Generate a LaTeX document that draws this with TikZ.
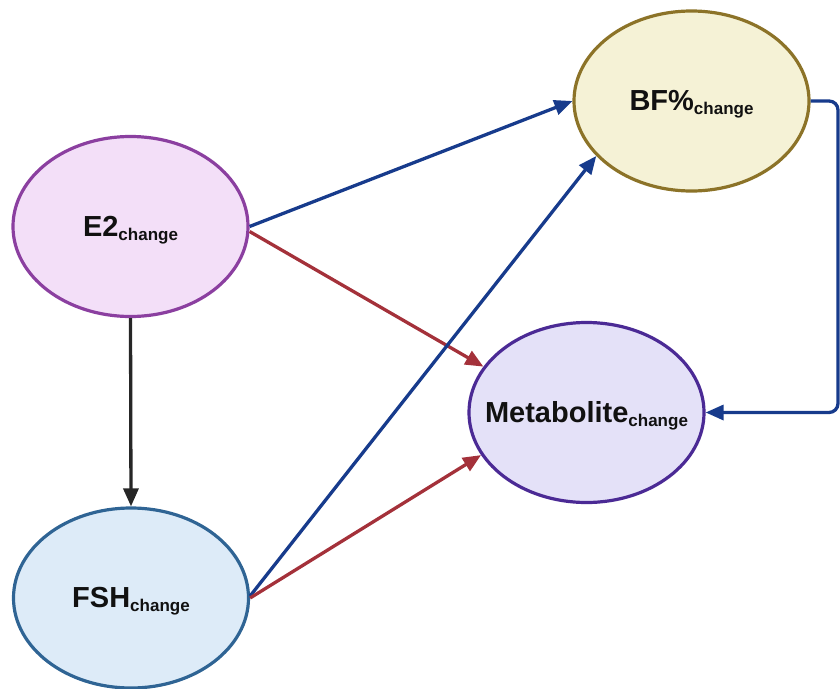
\documentclass[tikz,border=0pt]{standalone}
\usepackage{fontspec}
\setmainfont{Liberation Sans}
\usetikzlibrary{arrows.meta,shapes.geometric}

\definecolor{etwofill}{HTML}{F3DFF8}
\definecolor{etwoline}{HTML}{8B3FA0}
\definecolor{bffill}{HTML}{F5F2D6}
\definecolor{bfline}{HTML}{8C7328}
\definecolor{metfill}{HTML}{E4E1F8}
\definecolor{metline}{HTML}{4B2A95}
\definecolor{fshfill}{HTML}{DDEBF8}
\definecolor{fshline}{HTML}{2F6494}
\definecolor{pathblue}{HTML}{173B8C}
\definecolor{pathred}{HTML}{A4313A}
\definecolor{pathblack}{HTML}{262626}
\definecolor{labelink}{HTML}{111111}

% variable name with a lowered "change" subscript
\newcommand\chg[2]{#1\smash{\raisebox{-4pt}{\fontsize{17}{18}\selectfont #2}}}

\tikzset{
  varnode/.style={ellipse, minimum width=235pt, minimum height=180pt,
    inner sep=0pt, line width=3.2pt},
  vartext/.style={inner sep=0pt, text=labelink,
    font=\fontsize{29}{31}\selectfont\bfseries},
  link/.style={line width=3.3pt, -{Triangle[length=18pt,width=15pt]}},
}

\begin{document}
\begin{tikzpicture}[x=1pt,y=-1pt]
  \useasboundingbox (0,0) rectangle (840,688);

  % variables
  \node[varnode, fill=etwofill, draw=etwoline] (e2)  at (130.5,226.5) {};
  \node[varnode, fill=bffill,   draw=bfline]   (bf)  at (691.5,101)   {};
  \node[varnode, fill=metfill,  draw=metline]  (met) at (586.5,412.5) {};
  \node[varnode, fill=fshfill,  draw=fshline]  (fsh) at (131,598)     {};

  \node[vartext] (e2t)  at (e2)  {\chg{E2}{change}};
  \node[vartext] (bft)  at (bf)  {\chg{BF\%}{change}};
  \node[vartext] (mett) at (met) {\chg{Metabolite}{change}};
  \node[vartext] (fsht) at (fsh) {\chg{FSH}{change}};

  % paths
  \draw[link, pathblack] (e2.south) -- (fsh.north);
  \draw[link, pathblue]  (e2.east) -- (bf.west);
  \draw[link, pathred]   ([yshift=-5pt]e2.east) -- (met.156);
  \draw[link, pathblue]  ([yshift=2pt]fsh.east) -- (bf.210);
  \draw[link, pathred]   (fsh.east) -- (met.202);

  % feedback from body fat to metabolite around the right side
  \coordinate (rside) at (838,0);
  \draw[link, pathblue, rounded corners=9pt]
    (bf.east) -- (bf.east -| rside) |- (met.east);
\end{tikzpicture}
\end{document}
